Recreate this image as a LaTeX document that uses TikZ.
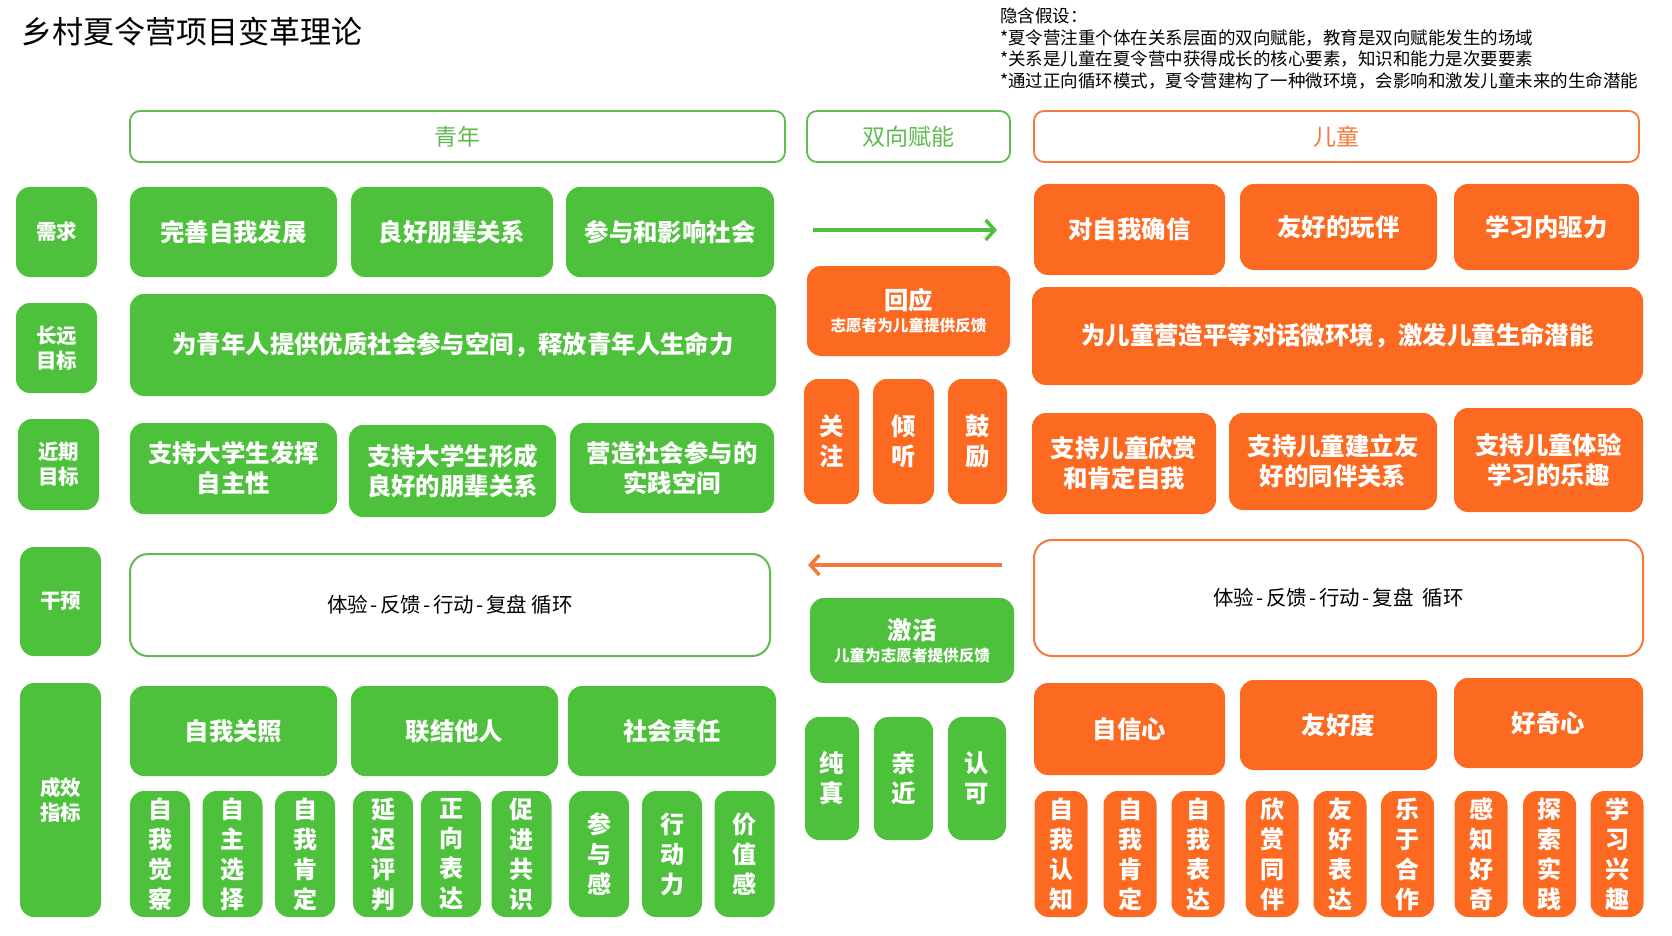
\documentclass[tikz,border=0pt]{standalone}
\usepackage{fontspec}
\setmainfont{Noto Sans CJK SC}
\usetikzlibrary{arrows.meta}
\definecolor{cgreen}{RGB}{78,193,60}
\definecolor{corange}{RGB}{252,106,33}
\definecolor{cgreenline}{RGB}{96,186,80}
\definecolor{corangeline}{RGB}{244,121,58}
\newcommand{\fsz}[2]{\fontsize{#1}{#2}\selectfont}
\newcommand{\hy}{\kern2.5pt-\kern2.5pt}

\begin{document}
\begin{tikzpicture}[x=1pt,y=-1pt,
		filled/.style={rounded corners=14pt, text=white, align=center, inner sep=0pt, font=\bfseries\fsz{24.4}{30}},
		gbox/.style={filled, fill=cgreen},
		obox/.style={filled, fill=corange},
		sidelbl/.style={gbox, font=\bfseries\fsz{20.5}{25}},
		vbox/.style={filled, minimum width=#1, minimum height=126, font=\bfseries\fsz{24}{30}},
		head/.style={rounded corners=10pt, line width=1.8pt, inner sep=0pt, font=\fsz{23}{28}},
		cycle/.style={rounded corners=18pt, line width=2pt, inner sep=0pt, font=\fsz{20.5}{24}}]
	\useasboundingbox (0,0) rectangle (1672,936);

	% Draw title and hypotheses
	\node[anchor=west, inner sep=0pt, font=\fsz{31}{36}] (title) at (21,32) {乡村夏令营项目变革理论};
	\node[anchor=north west, inner sep=0pt, align=left, font=\fsz{17.5}{21.5}] (hyp) at (1000,8)
		{隐含假设：\\*夏令营注重个体在关系层面的双向赋能，教育是双向赋能发生的场域\\*关系是儿童在夏令营中获得成长的核心要素，知识和能力是次要要素\\*通过正向循环模式，夏令营建构了一种微环境，会影响和激发儿童未来的生命潜能};

	% Draw column heads
	\node[head, draw=cgreenline, text=cgreenline, minimum width=655, minimum height=51] (hdYouth) at (457.5,136.5) {青年};
	\node[head, draw=cgreenline, text=cgreenline, minimum width=203, minimum height=51] (hdMutual) at (908.5,136.5) {双向赋能};
	\node[head, draw=corangeline, text=corangeline, minimum width=605, minimum height=51] (hdChild) at (1336.5,136.5) {儿童};

	% Draw row labels
	\node[sidelbl, minimum width=81, minimum height=90] (lbNeed) at (56.5,232) {需求};
	\node[sidelbl, minimum width=81, minimum height=90] (lbLong) at (56.5,348) {长远\\目标};
	\node[sidelbl, minimum width=81, minimum height=91] (lbShort) at (58.5,464.5) {近期\\目标};
	\node[sidelbl, minimum width=81, minimum height=109] (lbInt) at (60.5,601.5) {干预};
	\node[sidelbl, minimum width=81, minimum height=234] (lbOut) at (60.5,800) {成效\\指标};

	% Draw youth column
	\node[gbox, minimum width=207, minimum height=90] (yNeedA) at (233.5,232) {完善自我发展};
	\node[gbox, minimum width=202, minimum height=90] (yNeedB) at (452,232) {良好朋辈关系};
	\node[gbox, minimum width=208, minimum height=90] (yNeedC) at (670,232) {参与和影响社会};
	\node[gbox, minimum width=646, minimum height=102] (yLong) at (453,345) {为青年人提供优质社会参与空间，释放青年人生命力};
	\node[gbox, minimum width=207, minimum height=91] (yShortA) at (233.5,468.5) {支持大学生发挥\\自主性};
	\node[gbox, minimum width=207, minimum height=92] (yShortB) at (452.5,471) {支持大学生形成\\良好的朋辈关系};
	\node[gbox, minimum width=204, minimum height=90] (yShortC) at (672,468) {营造社会参与的\\实践空间};
	\node[cycle, draw=cgreenline, minimum width=640, minimum height=102] (yInt) at (450,605) {体验\hy 反馈\hy 行动\hy 复盘\ 循环};
	\node[gbox, minimum width=207, minimum height=90] (yOutA) at (233.5,731) {自我关照};
	\node[gbox, minimum width=207, minimum height=90] (yOutB) at (454.5,731) {联结他人};
	\node[gbox, minimum width=208, minimum height=90] (yOutC) at (672,731) {社会责任};
	\foreach \cx/\txt [count=\i] in {160/{自\\我\\觉\\察}, 232.5/{自\\主\\选\\择}, 305/{自\\我\\肯\\定},
			383/{延\\迟\\评\\判}, 451/{正\\向\\表\\达}, 521.5/{促\\进\\共\\识},
			599/{参\\与\\感}, 672/{行\\动\\力}, 744.5/{价\\值\\感}}
		\node[vbox=60, fill=cgreen] (ySub\i) at (\cx,854) {\txt};

	% Draw mutual empowerment column
	\coordinate (gArrowA) at (813,230);
	\coordinate (gArrowB) at (997,230);
	\draw[cgreen, line width=3.5pt, -{Straight Barb[length=9pt,width=20pt]}] (gArrowA) -- (gArrowB);
	\node[obox, minimum width=203, minimum height=90] (resp) at (908.5,311) {回应\\[-8pt]{\fsz{15.6}{18}志愿者为儿童提供反馈}};
	\node[obox, minimum width=55, minimum height=125] (respA) at (831.5,441.5) {关\\注};
	\node[obox, minimum width=61, minimum height=125] (respB) at (903.5,441.5) {倾\\听};
	\node[obox, minimum width=59, minimum height=125] (respC) at (977.5,441.5) {鼓\\励};
	\coordinate (oArrowA) at (1002,565);
	\coordinate (oArrowB) at (808,565);
	\draw[corangeline, line width=3.5pt, -{Straight Barb[length=9pt,width=20pt]}] (oArrowA) -- (oArrowB);
	\node[gbox, minimum width=204, minimum height=85] (act) at (912,640.5) {激活\\[-8pt]{\fsz{15.6}{18}儿童为志愿者提供反馈}};
	\node[gbox, minimum width=54, minimum height=123] (actA) at (832,778.5) {纯\\真};
	\node[gbox, minimum width=59, minimum height=123] (actB) at (903.5,778.5) {亲\\近};
	\node[gbox, minimum width=58, minimum height=123] (actC) at (977,778.5) {认\\可};

	% Draw child column
	\node[obox, minimum width=191, minimum height=91] (cNeedA) at (1129.5,229.5) {对自我确信};
	\node[obox, minimum width=197, minimum height=86] (cNeedB) at (1338.5,227) {友好的玩伴};
	\node[obox, minimum width=185, minimum height=86] (cNeedC) at (1546.5,227) {学习内驱力};
	\node[obox, minimum width=611, minimum height=98] (cLong) at (1337.5,336) {为儿童营造平等对话微环境，激发儿童生命潜能};
	\node[obox, minimum width=184, minimum height=101] (cShortA) at (1124,463.5) {支持儿童欣赏\\和肯定自我};
	\node[obox, minimum width=208, minimum height=97] (cShortB) at (1333,461.5) {支持儿童建立友\\好的同伴关系};
	\node[obox, minimum width=189, minimum height=104] (cShortC) at (1548.5,460) {支持儿童体验\\学习的乐趣};
	\node[cycle, draw=corangeline, minimum width=609, minimum height=116] (cInt) at (1338.5,598) {体验\hy 反馈\hy 行动\hy 复盘\ \ 循环};
	\node[obox, minimum width=191, minimum height=92] (cOutA) at (1129.5,729) {自信心};
	\node[obox, minimum width=197, minimum height=90] (cOutB) at (1338.5,725) {友好度};
	\node[obox, minimum width=189, minimum height=90] (cOutC) at (1548.5,723) {好奇心};
	\foreach \cx/\txt [count=\i] in {1061/{自\\我\\认\\知}, 1130/{自\\我\\肯\\定}, 1198/{自\\我\\表\\达},
			1272/{欣\\赏\\同\\伴}, 1340/{友\\好\\表\\达}, 1407.5/{乐\\于\\合\\作},
			1481/{感\\知\\好\\奇}, 1549.5/{探\\索\\实\\践}, 1617/{学\\习\\兴\\趣}}
		\node[vbox=53, fill=corange] (cSub\i) at (\cx,854) {\txt};
\end{tikzpicture}
\end{document}
